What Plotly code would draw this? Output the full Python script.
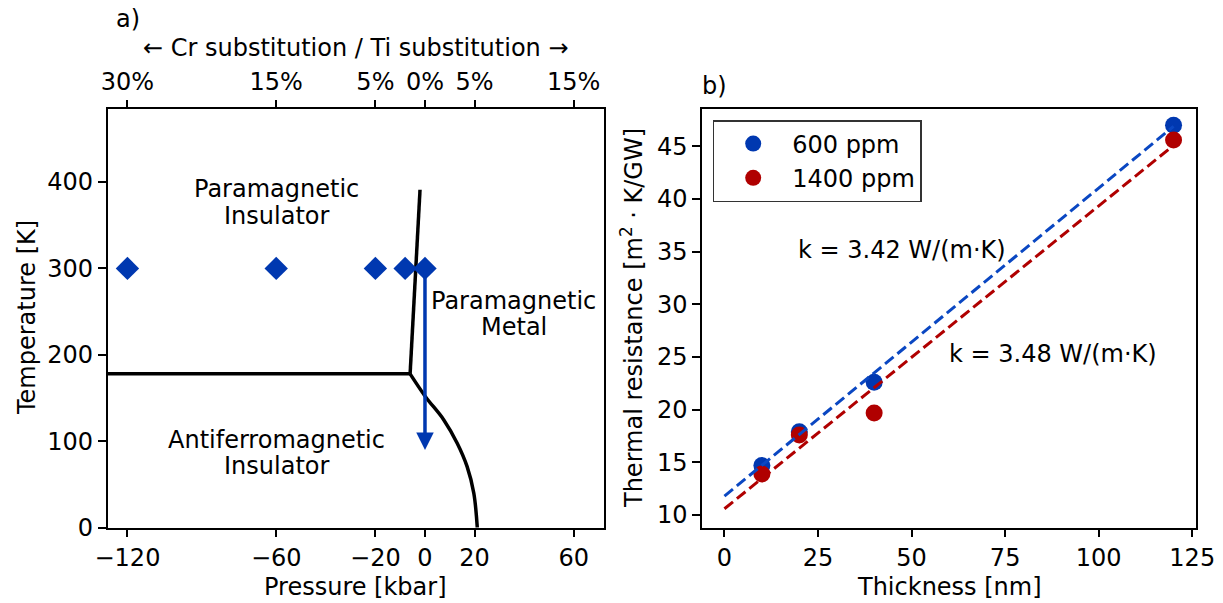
import plotly.graph_objects as go

# ---------------- data: panel a) phase diagram ----------------
p_ticks = [-120, -60, -20, 0, 20, 60]
p_ticktext = ["\u2212120", "\u221260", "\u221220", "0", "20", "60"]
subst_ticktext = ["30%", "15%", "5%", "0%", "5%", "15%"]
t_ticks = [0, 100, 200, 300, 400]

# phase boundaries
afm_top_p = [-128, -6]
afm_top_t = [178, 178]
mit_p = [-6, -2]
mit_t = [178, 391]
neel_p = [-6, 0.2, 7.6, 13.0, 17.0, 19.7, 21.1]
neel_t = [178, 151.6, 124.7, 97.7, 70.6, 39.8, 0]

# samples measured at room temperature
sample_p = [-120, -60, -20, -8, 0]
sample_t = [300, 300, 300, 300, 300]

# ---------------- data: panel b) thermal resistance ----------------
thickness = [10, 20, 40, 120]
r_600 = [14.7, 17.9, 22.6, 47.0]
r_1400 = [13.9, 17.6, 19.7, 45.6]
fit_x = [0, 120]
fit_600 = [11.8, 46.9]
fit_1400 = [10.6, 45.1]
thick_ticks = [0, 25, 50, 75, 100, 125]
r_ticks = [10, 15, 20, 25, 30, 35, 40, 45]

BLUE = "#0038b0"
BLUE_L = "#0a47c2"
RED = "#b00000"
FONT = "DejaVu Sans"
FS = 24

W, H = 1223, 603
def px(x):
    return x / W
def py(y):
    return 1 - y / H

fig = go.Figure()

# panel a
fig.add_trace(go.Scatter(x=afm_top_p, y=afm_top_t, mode="lines",
                         line=dict(color="black", width=3.5), showlegend=False,
                         xaxis="x", yaxis="y"))
fig.add_trace(go.Scatter(x=mit_p, y=mit_t, mode="lines",
                         line=dict(color="black", width=3.5), showlegend=False,
                         xaxis="x", yaxis="y"))
fig.add_trace(go.Scatter(x=neel_p, y=neel_t, mode="lines",
                         line=dict(color="black", width=3.5, shape="spline"),
                         showlegend=False, xaxis="x", yaxis="y"))
fig.add_trace(go.Scatter(x=sample_p, y=sample_t, mode="markers",
                         marker=dict(symbol="diamond", size=18, color=BLUE),
                         showlegend=False, xaxis="x", yaxis="y"))
# same samples on the substitution (top) axis, invisible, so that axis is drawn
fig.add_trace(go.Scatter(x=sample_p, y=sample_t, mode="markers",
                         marker=dict(size=1, color="rgba(0,0,0,0)"),
                         showlegend=False, hoverinfo="skip",
                         xaxis="x3", yaxis="y"))

# panel b
fig.add_trace(go.Scatter(x=thickness, y=r_600, mode="markers", name="600 ppm",
                         marker=dict(size=17, color=BLUE), xaxis="x2", yaxis="y2"))
fig.add_trace(go.Scatter(x=thickness, y=r_1400, mode="markers", name="1400 ppm",
                         marker=dict(size=17, color=RED), xaxis="x2", yaxis="y2"))
fig.add_trace(go.Scatter(x=fit_x, y=fit_600, mode="lines", showlegend=False,
                         line=dict(color=BLUE_L, width=3, dash="11px,5px"),
                         xaxis="x2", yaxis="y2"))
fig.add_trace(go.Scatter(x=fit_x, y=fit_1400, mode="lines", showlegend=False,
                         line=dict(color=RED, width=3, dash="11px,5px"),
                         xaxis="x2", yaxis="y2"))

axis_common = dict(showline=True, linecolor="black", linewidth=1.5, mirror=True,
                   ticks="outside", ticklen=8, tickwidth=1.5, tickcolor="black",
                   showgrid=False, zeroline=False, automargin=False,
                   ticklabeloverflow="allow",
                   tickfont=dict(family=FONT, size=FS, color="black"))

ydom = [py(527.7), py(108.5)]

fig.update_layout(
    width=W, height=H,
    margin=dict(l=0, r=0, t=0, b=0),
    paper_bgcolor="white", plot_bgcolor="white",
    font=dict(family=FONT, size=FS, color="black"),
    xaxis=dict(domain=[px(107.6), px(603.5)], range=[-128, 72],
               tickmode="array", tickvals=p_ticks, ticktext=p_ticktext,
               anchor="y", **axis_common),
    xaxis3=dict(overlaying="x", side="top", anchor="y", range=[-128, 72],
                tickmode="array", tickvals=p_ticks, ticktext=subst_ticktext,
                ticks="outside", ticklen=8, tickwidth=1.5, tickcolor="black",
                showline=False, showgrid=False, zeroline=False, automargin=False,
                ticklabeloverflow="allow",
                tickfont=dict(family=FONT, size=FS, color="black")),
    yaxis=dict(domain=ydom, range=[0, 485], anchor="x",
               tickmode="array", tickvals=t_ticks, **axis_common),
    xaxis2=dict(domain=[px(702), px(1196)], range=[-6, 126], anchor="y2",
                tickmode="array", tickvals=thick_ticks, **axis_common),
    yaxis2=dict(domain=ydom, range=[8.8, 48.6], anchor="x2",
                tickmode="array", tickvals=r_ticks, **axis_common),
    legend=dict(x=px(712.7), y=py(120), xanchor="left", yanchor="top",
                bordercolor="#333333", borderwidth=1.5, bgcolor="white",
                font=dict(family=FONT, size=FS, color="black"),
                itemsizing="trace", itemwidth=68),
)

# arrow (sample at 0 kbar cooled down)
fig.add_annotation(x=0, y=90, ax=0, ay=300, xref="x", yref="y", axref="x", ayref="y",
                   showarrow=True, arrowhead=2, arrowsize=1, arrowwidth=3.5,
                   arrowcolor=BLUE, text="")

def label(x, y, lines, xref, yref, gap=26.5, angle=0):
    n = len(lines)
    for i, s in enumerate(lines):
        shift = ((n - 1) / 2 - i) * gap
        fig.add_annotation(x=x, y=y, xref=xref, yref=yref, text=s, showarrow=False,
                           yshift=shift, xanchor="center", yanchor="middle",
                           textangle=angle,
                           font=dict(family=FONT, size=FS, color="black"))

label(-60, 376.5, ["Paramagnetic", "Insulator"], "x", "y")
label(35.9, 247, ["Paramagnetic", "Metal"], "x", "y")
label(-60, 86.5, ["Antiferromagnetic", "Insulator"], "x", "y")

label(47.5, 35.2, ["k = 3.42 W/(m\u00b7K)"], "x2", "y2")
label(87.9, 25.3, ["k = 3.48 W/(m\u00b7K)"], "x2", "y2")

# axis titles
label(px(355.5), py(587), ["Pressure [kbar]"], "paper", "paper")
label(px(949), py(587), ["Thickness [nm]"], "paper", "paper")
label(px(27), py(318), ["Temperature [K]"], "paper", "paper", angle=-90)
label(px(632), py(318), ["Thermal resistance [m<sup>2</sup> \u00b7 K/GW]"], "paper", "paper", angle=-90)

# panel letters and top axis title
label(px(128), py(19), ["a)"], "paper", "paper")
label(px(714), py(86), ["b)"], "paper", "paper")
label(px(355.5), py(48), ["\u2190 Cr substitution / Ti substitution \u2192"], "paper", "paper")

# let the figure fill the window exactly (no default page margin), no mode bar
fig.write_html("out.html",
               config={"displayModeBar": False},
               post_script="document.body.style.margin='0';"
                           "document.body.style.overflow='hidden';")
